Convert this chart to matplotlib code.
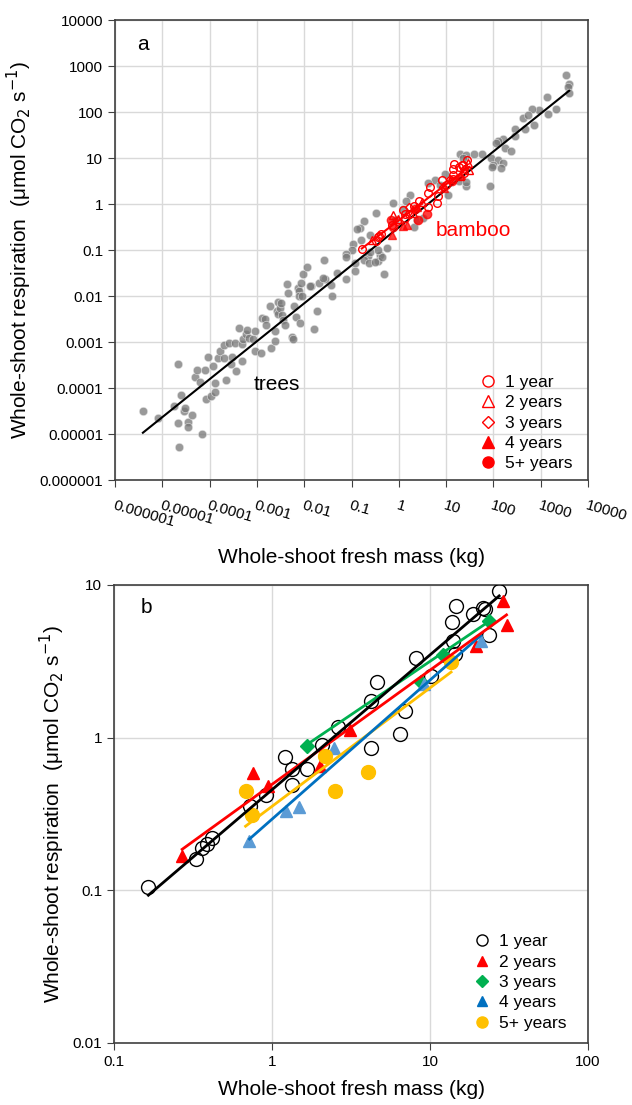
import numpy as np
import matplotlib
matplotlib.use("Agg")
import matplotlib.pyplot as plt
from matplotlib.lines import Line2D

plt.rcParams['font.family'] = ['Liberation Sans', 'DejaVu Sans']

# ---- panel a: trees, (log10 fresh mass kg, log10 respiration)
trees_large = [(3.54, 2.81), (3.60, 2.60), (3.58, 2.55), (3.60, 2.41), (3.13, 2.33), (3.32, 2.07),
               (3.15, 1.95), (2.96, 2.04), (2.81, 2.07), (2.62, 1.87), (2.73, 1.93), (2.85, 1.72),
               (2.66, 1.63), (2.45, 1.63), (2.45, 1.47), (2.20, 1.41), (2.09, 1.36), (2.05, 1.33),
               (2.24, 1.21), (2.37, 1.16), (1.94, 1.00), (2.09, 0.95), (2.20, 0.89), (2.17, 0.79),
               (1.99, 0.84), (1.96, 0.80), (1.60, 1.09), (1.75, 1.09), (1.30, 1.09), (1.42, 1.07),
               (1.36, 1.00), (1.92, 0.39), (0.98, 0.65), (1.03, 0.19), (1.43, 0.39), (1.28, 0.49),
               (1.42, 0.48), (0.77, 0.52), (0.88, 0.41), (0.62, 0.46), (0.23, 0.19), (0.15, 0.07),
               (0.09, -0.11), (-0.12, 0.03), (0.32, -0.51), (0.39, -0.35), (0.51, -0.31)]
trees_mid = [(-0.48, -0.19), (-0.74, -0.37), (-0.83, -0.53), (-0.89, -0.55), (-0.60, -0.68),
             (-0.80, -0.79), (-0.97, -0.88), (-1.00, -1.01), (-1.12, -1.09), (-1.12, -1.16),
             (-0.93, -1.28), (-0.66, -1.14), (-0.74, -1.21), (-0.63, -1.29), (-0.40, -1.10),
             (-0.44, -1.24), (-0.36, -1.16), (-0.25, -0.96), (-0.32, -1.52), (-0.45, -1.01),
             (-1.31, -1.50), (-1.58, -1.22), (-1.12, -1.64), (-1.57, -1.64), (-1.68, -1.71),
             (-1.43, -1.76), (-1.42, -2.00), (-1.86, -1.78), (-1.60, -1.60), (-0.93, -1.45),
             (-0.61, -1.04), (-0.51, -1.27), (-0.09, -0.35), (-1.79, -2.71), (-1.72, -2.32)]
trees_small = [(-5.41, -4.50), (-5.09, -4.65), (-4.76, -4.40), (-4.66, -3.48), (-4.61, -4.15),
               (-4.67, -4.76), (-4.54, -4.50), (-4.52, -4.44), (-4.46, -4.73), (-4.46, -4.85),
               (-4.38, -4.58), (-4.64, -5.28), (-4.16, -4.99), (-4.31, -3.77), (-4.26, -3.60),
               (-4.21, -3.88), (-4.07, -4.24), (-4.04, -3.32), (-4.09, -3.61), (-3.97, -4.17),
               (-3.93, -3.53), (-3.88, -3.89), (-3.88, -4.09), (-3.83, -3.35), (-3.77, -3.19),
               (-3.70, -3.06), (-3.69, -3.34), (-3.65, -3.82), (-3.58, -3.03), (-3.55, -3.47),
               (-3.53, -3.32), (-3.44, -3.63), (-3.46, -3.02), (-3.37, -2.69), (-3.32, -3.42),
               (-3.32, -3.05), (-3.30, -2.93), (-3.23, -2.82), (-3.20, -2.73), (-3.16, -2.92),
               (-3.09, -2.93), (-3.04, -2.75), (-3.04, -3.19), (-2.92, -3.23), (-2.90, -2.47),
               (-2.83, -2.51), (-2.80, -2.64), (-2.72, -2.22), (-2.71, -3.14), (-2.62, -2.98),
               (-2.61, -2.76), (-2.56, -2.14), (-2.58, -2.32), (-2.55, -2.40), (-2.51, -2.27),
               (-2.48, -2.15), (-2.47, -2.42), (-2.44, -2.53), (-2.41, -2.63), (-2.37, -1.74),
               (-2.35, -1.94), (-2.25, -2.89), (-2.23, -2.94), (-2.21, -2.21), (-2.18, -2.46),
               (-2.14, -1.83), (-2.11, -1.90), (-2.11, -2.01), (-2.09, -2.58), (-2.04, -2.01),
               (-2.06, -1.72), (-2.02, -1.53), (-1.95, -1.36), (-1.88, -1.79)]

# ---- bamboo shoots by age (fresh mass kg, respiration umol CO2 s-1)
age_labels = ['1 year', '2 years', '3 years', '4 years', '5+ years']
m_1yr = [0.165, 0.33, 0.36, 0.39, 0.42, 0.73, 0.92, 1.34, 1.20, 1.34, 1.66, 2.08, 2.61, 4.24,
         4.62, 4.24, 6.5, 6.9, 8.1, 10.1, 13.9, 13.8, 14.6, 14.3, 18.6, 21.5, 22.4, 23.5, 27.4]
r_1yr = [0.105, 0.16, 0.19, 0.20, 0.22, 0.356, 0.42, 0.49, 0.75, 0.62, 0.62, 0.90, 1.18, 0.86,
         2.33, 1.75, 1.05, 1.50, 3.33, 2.55, 4.28, 5.75, 7.3, 3.55, 6.5, 7.1, 7.0, 4.7, 9.2]
m_2yr = [0.27, 0.76, 0.94, 2.0, 3.1, 19.5, 29.0, 30.5]
r_2yr = [0.168, 0.59, 0.48, 0.65, 1.12, 4.0, 7.8, 5.5]
m_3yr = [1.66, 8.8, 12.0, 23.5]
r_3yr = [0.88, 2.3, 3.47, 5.85]
m_4yr = [0.72, 1.22, 1.48, 2.47, 9.2, 21.0]
r_4yr = [0.21, 0.33, 0.35, 0.86, 2.24, 4.3]
m_5yr = [0.68, 0.75, 2.17, 2.49, 4.04, 13.6]
r_5yr = [0.45, 0.31, 0.76, 0.45, 0.60, 3.14]

# regression lines (slope, intercept) in log10-log10 space
fit_trees = (0.825, -0.509)
fit_bamboo = (0.783, -0.355)
fit_by_age = [(0.883, -0.341), (0.748, -0.306), (0.700, -0.200), (0.911, -0.534), (0.776, -0.450)]

decade_labels = ['0.000001', '0.00001', '0.0001', '0.001', '0.01', '0.1', '1', '10', '100',
                 '1000', '10000']


def fit_line(x, coef):
    lx = np.log10([min(x), max(x)])
    return 10 ** lx, 10 ** (coef[0] * lx + coef[1])


fig = plt.figure(figsize=(6.32, 11.05), dpi=100)
ax1 = fig.add_axes([115 / 632, 1 - 480 / 1105, 473 / 632, 460 / 1105])
ax2 = fig.add_axes([114 / 632, 1 - 1043 / 1105, 474 / 632, 458 / 1105])

# ---------------- panel a
trees = np.array(trees_large + trees_mid + trees_small)
tm = 10 ** trees[:, 0]
tr = 10 ** trees[:, 1]
ax1.plot(tm, tr, 'o', ms=6, color='#777777', alpha=0.75, mec='#e6e6e6', mew=0.5, zorder=2)

all_m = m_1yr + m_2yr + m_3yr + m_4yr + m_5yr
fx, fy = fit_line(list(tm) + all_m, fit_trees)
ax1.plot(fx, fy, color='black', lw=1.5, zorder=4)

red = '#ff0000'
ax1.plot(m_1yr, r_1yr, 'o', ms=5.5, mfc='none', mec=red, mew=1, zorder=5)
ax1.plot(m_2yr, r_2yr, '^', ms=5.5, mfc='none', mec=red, mew=1, zorder=5)
ax1.plot(m_3yr, r_3yr, 'D', ms=4.5, mfc='none', mec=red, mew=1, zorder=5)
ax1.plot(m_4yr, r_4yr, '^', ms=5.5, color=red, alpha=0.75, zorder=5)
ax1.plot(m_5yr, r_5yr, 'o', ms=6, color=red, alpha=0.75, zorder=5)
bx, by = fit_line(all_m, fit_bamboo)
ax1.plot(bx, by, color=red, lw=1.5, zorder=5)

ax1.set_xscale('log')
ax1.set_yscale('log')
ax1.set_xlim(1e-6, 1e4)
ax1.set_ylim(1e-6, 1e4)
decades = 10.0 ** np.arange(-6, 5)
ax1.set_xticks(decades)
ax1.set_yticks(decades)
ax1.set_xticklabels(decade_labels, rotation=-16, ha='left', va='top',
                    rotation_mode='anchor', fontsize=11)
ax1.set_yticklabels(decade_labels, fontsize=11)
ax1.minorticks_off()
ax1.grid(True, color='#d9d9d9', lw=1)
ax1.set_axisbelow(True)
ax1.tick_params(axis='x', pad=8, length=5, color='#404040')
ax1.tick_params(axis='y', length=5, color='#404040')
for s in ax1.spines.values():
    s.set_color('#404040')
    s.set_linewidth(1.2)
ax1.set_xlabel('Whole-shoot fresh mass (kg)', fontsize=15, labelpad=14)
ax1.set_ylabel('Whole-shoot respiration  (μmol CO$_2$ s$^{-1}$)', fontsize=15)
ax1.text(0.046, 0.946, 'a', transform=ax1.transAxes, fontsize=15, va='center')
ax1.text(0.677, 0.543, 'bamboo', transform=ax1.transAxes, fontsize=15, color=red, va='center')
ax1.text(0.294, 0.207, 'trees', transform=ax1.transAxes, fontsize=15, va='center')

hA = [Line2D([], [], ls='none', marker='o', ms=8, mfc='none', mec=red),
      Line2D([], [], ls='none', marker='^', ms=8, mfc='none', mec=red),
      Line2D([], [], ls='none', marker='D', ms=6.5, mfc='none', mec=red),
      Line2D([], [], ls='none', marker='^', ms=8, color=red),
      Line2D([], [], ls='none', marker='o', ms=8, color=red)]
ax1.legend(hA, age_labels, loc='lower right', frameon=False, fontsize=12.5,
           handletextpad=0.2, labelspacing=0.3, borderaxespad=0.1, handlelength=1.5,
           bbox_to_anchor=(0.985, 0.0))

# ---------------- panel b
groups = [
    (m_1yr, r_1yr, dict(marker='o', ms=10, mfc='none', mec='black', mew=1), 'black'),
    (m_2yr, r_2yr, dict(marker='^', ms=9, color='#ff0000'), '#ff0000'),
    (m_3yr, r_3yr, dict(marker='D', ms=7, color='#00b050'), '#00b050'),
    (m_4yr, r_4yr, dict(marker='^', ms=9, color='#5b9bd5'), '#0070c0'),
    (m_5yr, r_5yr, dict(marker='o', ms=10, color='#ffc000'), '#ffc000'),
]
for i, (m, r, st, lc) in enumerate(groups):
    ax2.plot(m, r, ls='none', zorder=3 + i, **st)
for i, (m, r, st, lc) in enumerate(groups):
    lx, ly = fit_line(m, fit_by_age[i])
    ax2.plot(lx, ly, color=lc, lw=2, zorder=14 - i)

ax2.set_xscale('log')
ax2.set_yscale('log')
ax2.set_xlim(0.1, 100)
ax2.set_ylim(0.01, 10)
ax2.set_xticks([0.1, 1, 10, 100])
ax2.set_xticklabels(['0.1', '1', '10', '100'], fontsize=11)
ax2.set_yticks([0.01, 0.1, 1, 10])
ax2.set_yticklabels(['0.01', '0.1', '1', '10'], fontsize=11)
ax2.minorticks_off()
ax2.grid(True, color='#d9d9d9', lw=1)
ax2.set_axisbelow(True)
ax2.tick_params(length=5, color='#404040')
for s in ax2.spines.values():
    s.set_color('#404040')
    s.set_linewidth(1.2)
ax2.set_xlabel('Whole-shoot fresh mass (kg)', fontsize=15, labelpad=8)
ax2.set_ylabel('Whole-shoot respiration  (μmol CO$_2$ s$^{-1}$)', fontsize=15)
ax2.text(0.056, 0.95, 'b', transform=ax2.transAxes, fontsize=15, va='center')

hB = [Line2D([], [], ls='none', marker='o', ms=8, mfc='none', mec='black'),
      Line2D([], [], ls='none', marker='^', ms=7, color='#ff0000'),
      Line2D([], [], ls='none', marker='D', ms=6, color='#00b050'),
      Line2D([], [], ls='none', marker='^', ms=7, color='#0070c0'),
      Line2D([], [], ls='none', marker='o', ms=8, color='#ffc000')]
ax2.legend(hB, age_labels, loc='lower right', frameon=False, fontsize=12.5,
           handletextpad=0.2, labelspacing=0.3, borderaxespad=0.3, handlelength=1.5,
           bbox_to_anchor=(0.98, 0.0))

fig.savefig('out.png', dpi=100)
